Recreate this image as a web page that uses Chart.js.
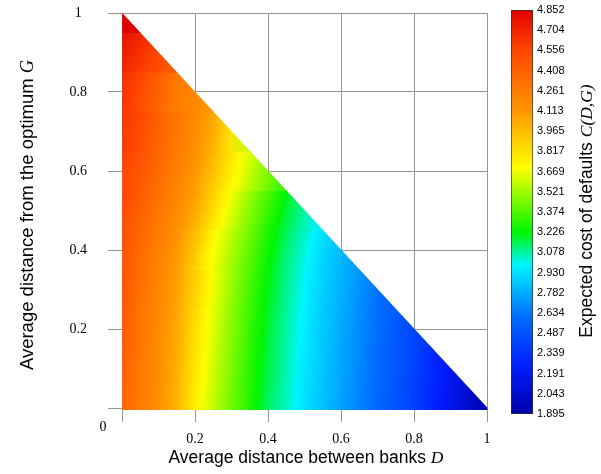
<!DOCTYPE html>
<html>
<head>
<meta charset="utf-8">
<title>Expected cost of defaults C(D,G)</title>
<script src="https://cdn.jsdelivr.net/npm/chart.js@4.4.1/dist/chart.umd.min.js"></script>
<style>
  body { margin: 0; background: #fff; }
  #wrap { position: relative; width: 601px; height: 474px; }
  #wrap canvas { position: absolute; top: 0; }
  #main { left: 0; }
  #bar { left: 500px; }
</style>
</head>
<body>
<div id="wrap">
  <canvas id="main" width="601" height="474"></canvas>
  <canvas id="bar" width="101" height="474"></canvas>
</div>
<script>
// surface: one row per G, values of C at D = 0, 0.05, 0.10 ... up to 1 - G
const gRows = [0, 0.1, 0.2, 0.3, 0.4, 0.5, 0.6, 0.7, 0.8, 0.9, 1];
const dStep = 0.05;
const costRows = [
    [4.379, 4.261, 4.142, 3.994, 3.758, 3.580, 3.433, 3.285, 3.137, 3.048, 2.930, 2.841, 2.753, 2.664, 2.575, 2.486, 2.398, 2.279, 2.161, 2.043, 1.895],
    [4.423, 4.278, 4.160, 4.018, 3.796, 3.610, 3.456, 3.308, 3.161, 3.063, 2.948, 2.856, 2.767, 2.679, 2.590, 2.501, 2.412, 2.297, 2.179],
    [4.453, 4.296, 4.178, 4.039, 3.829, 3.634, 3.477, 3.329, 3.181, 3.075, 2.965, 2.868, 2.779, 2.690, 2.602, 2.513, 2.424],
    [4.482, 4.320, 4.201, 4.068, 3.876, 3.669, 3.507, 3.359, 3.211, 3.093, 2.989, 2.886, 2.797, 2.708, 2.619],
    [4.497, 4.355, 4.237, 4.113, 3.921, 3.699, 3.551, 3.403, 3.255, 3.119, 3.025, 2.912, 2.823],
    [4.527, 4.414, 4.296, 4.178, 4.039, 3.829, 3.634, 3.477, 3.329, 3.181, 3.075],
    [4.556, 4.473, 4.355, 4.237, 4.113, 3.947, 3.758, 3.595, 3.462],
    [4.615, 4.527, 4.394, 4.284, 4.166, 4.024, 3.805],
    [4.645, 4.542, 4.408, 4.261, 4.190],
    [4.734, 4.645, 4.556],
    [4.852]
];
const axisTicks = [0, 0.2, 0.4, 0.6, 0.8, 1];
const colorTicks = [4.852, 4.704, 4.556, 4.408, 4.261, 4.113, 3.965, 3.817, 3.669, 3.521, 3.374,
                    3.226, 3.078, 2.930, 2.782, 2.634, 2.487, 2.339, 2.191, 2.043, 1.895];

const cMax = colorTicks[0];
const cMin = colorTicks[colorTicks.length - 1];

// colour map (position 0..1 -> rgb), jet-like as in the colour bar
const CMAP = [
    [0.00, [0, 0, 170]],
    [0.12, [0, 30, 255]],
    [0.24, [0, 110, 255]],
    [0.37, [0, 245, 255]],
    [0.45, [0, 245, 0]],
    [0.61, [255, 255, 0]],
    [0.75, [255, 150, 0]],
    [0.90, [255, 70, 0]],
    [1.00, [225, 0, 0]]
];

function mapColor(t) {
    t = Math.max(0, Math.min(1, t));
    for (let i = 1; i < CMAP.length; i++) {
        const [t0, c0] = CMAP[i - 1];
        const [t1, c1] = CMAP[i];
        if (t <= t1) {
            const f = (t - t0) / (t1 - t0);
            const c = c0.map((a, k) => Math.round(a + (c1[k] - a) * f));
            return 'rgb(' + c.join(',') + ')';
        }
    }
    return 'rgb(225,0,0)';
}

function costColor(v) {
    return mapColor((v - cMin) / (cMax - cMin));
}

// slope dD/dG of the iso-cost lines around row k (least squares over the row)
function rowTilt(k) {
    const row = costRows[k];
    const last = costRows.length - 1;
    const up = k < last ? costRows[k + 1] : [];
    const dn = k > 0 ? costRows[k - 1] : [];
    let num = 0, den = 0;
    for (let i = 1; i < row.length - 1; i++) {
        let dG;
        if (up[i] !== undefined && dn[i] !== undefined) dG = (up[i] - dn[i]) / (gRows[k + 1] - gRows[k - 1]);
        else if (dn[i] !== undefined) dG = (row[i] - dn[i]) / (gRows[k] - gRows[k - 1]);
        else if (up[i] !== undefined) dG = (up[i] - row[i]) / (gRows[k + 1] - gRows[k]);
        else continue;
        const dD = (row[i + 1] - row[i - 1]) / (2 * dStep);
        num += -dG * dD;
        den += dD * dD;
    }
    return den > 0 ? num / den : 0;
}

// gradient for one G row, stops at the D grid, tilted along the iso-lines.
// The gradient runs over D' in [-0.1, 1.1] so the ends of a row keep their slope.
const PAD = 0.1;
function rowFill(ctx) {
    if (ctx.type !== 'data') return 'transparent';
    const chart = ctx.chart;
    const k = ctx.dataIndex;
    const row = costRows[k];
    const xs = chart.scales.x, ys = chart.scales.y;
    if (!chart.chartArea || !xs || !ys) return costColor(row[0]);
    const x0 = xs.getPixelForValue(0);
    const yk = ys.getPixelForValue(gRows[k]);
    const sx = xs.getPixelForValue(1) - x0;
    const sy = ys.getPixelForValue(0) - ys.getPixelForValue(1);
    const a = rowTilt(k);
    const wx = 1 / sx, wy = a / sy;
    const w2 = wx * wx + wy * wy;
    const vx = wx / w2, vy = wy / w2;
    const g = chart.ctx.createLinearGradient(x0 - PAD * vx, yk - PAD * vy,
                                             x0 + (1 + PAD) * vx, yk + (1 + PAD) * vy);
    const at = d => (d + PAD) / (1 + 2 * PAD);
    const n = row.length;
    if (n === 1) {
        g.addColorStop(0, costColor(row[0]));
        return g;
    }
    g.addColorStop(at(-dStep), costColor(2 * row[0] - row[1]));
    for (let i = 0; i < n - 1; i++) {
        for (let s = 0; s < 4; s++) {
            const f = s / 4;
            g.addColorStop(at((i + f) * dStep), costColor(row[i] + (row[i + 1] - row[i]) * f));
        }
    }
    g.addColorStop(at((n - 1) * dStep), costColor(row[n - 1]));
    g.addColorStop(at(n * dStep), costColor(2 * row[n - 1] - row[n - 2]));
    return g;
}

function drawParts(ctx, parts, x, y, angle) {
    ctx.save();
    ctx.translate(x, y);
    ctx.rotate(angle);
    ctx.fillStyle = '#000';
    ctx.textBaseline = 'alphabetic';
    ctx.textAlign = 'left';
    let total = 0;
    parts.forEach(p => { ctx.font = p.font; total += ctx.measureText(p.text).width; });
    let cx = -total / 2;
    parts.forEach(p => {
        ctx.font = p.font;
        ctx.fillText(p.text, cx, 0);
        cx += ctx.measureText(p.text).width;
    });
    ctx.restore();
}

const sans = size => size + 'px "Liberation Sans", Arial, sans-serif';
const ital = size => 'italic ' + size + 'px "Liberation Serif", "Times New Roman", serif';
const SERIF = '"Liberation Serif", "Times New Roman", serif';

// only the triangle D + G <= 1 is drawn
const triangleClip = {
    id: 'triangleClip',
    beforeDatasetsDraw(chart) {
        const { x, y } = chart.scales;
        const l = x.getPixelForValue(0) - 2.5, r = x.getPixelForValue(1) + 2.5;
        const b = y.getPixelForValue(0) + 2, t = y.getPixelForValue(1) - 3;
        const ctx = chart.ctx;
        ctx.save();
        ctx.beginPath();
        ctx.moveTo(l, b);
        ctx.lineTo(r, b);
        ctx.lineTo(l, t);
        ctx.closePath();
        ctx.clip();
    },
    afterDatasetsDraw(chart) {
        chart.ctx.restore();
    }
};

const mainLabels = {
    id: 'mainLabels',
    afterDraw(chart) {
        const ctx = chart.ctx;
        const { x, y } = chart.scales;
        drawParts(ctx, [{ text: 'Average distance between banks ', font: sans(17.5) }, { text: 'D', font: ital(17.5) }], 306, 463, 0);
        drawParts(ctx, [{ text: 'Average distance from the optimum ', font: sans(18.5) }, { text: 'G', font: ital(18.5) }], 33, 215, -Math.PI / 2);
        ctx.save();
        ctx.font = '14px ' + SERIF;
        ctx.fillStyle = '#000';
        ctx.textAlign = 'center';
        ctx.textBaseline = 'middle';
        ctx.fillText('0', x.getPixelForValue(0) - 19, y.getPixelForValue(0) + 19);
        ctx.restore();
    }
};

const gridOpts = {
    offset: false,
    color: '#959595',
    tickColor: '#959595',
    lineWidth: 1,
    tickLength: 14
};

new Chart(document.getElementById('main'), {
    type: 'bar',
    data: {
        datasets: [{
            data: gRows.map(g => ({ y: g, x: [0, 1] })),
            backgroundColor: rowFill,
            borderWidth: 0,
            barPercentage: 1,
            categoryPercentage: 1,
            clip: false
        }]
    },
    options: {
        indexAxis: 'y',
        responsive: false,
        animation: false,
        layout: { autoPadding: false, padding: { left: 0, top: 13, right: 114, bottom: 0 } },
        plugins: { legend: { display: false }, tooltip: { enabled: false } },
        scales: {
            x: {
                type: 'linear',
                min: 0,
                max: 1,
                offset: false,
                grid: gridOpts,
                border: { display: false },
                afterBuildTicks: s => { s.ticks = axisTicks.map(v => ({ value: v })); },
                afterFit: s => { s.height = 66; s.paddingLeft = 0; s.paddingRight = 0; },
                ticks: {
                    padding: 9,
                    maxRotation: 0,
                    color: '#000',
                    font: { family: SERIF, size: 14 },
                    callback: v => (v === 0 ? '' : String(v))
                }
            },
            y: {
                type: 'linear',
                min: 0,
                max: 1,
                offset: false,
                grid: gridOpts,
                border: { display: false },
                afterBuildTicks: s => { s.ticks = axisTicks.map(v => ({ value: v })); },
                afterFit: s => { s.width = 122; s.paddingTop = 0; s.paddingBottom = 0; },
                ticks: {
                    padding: 21,
                    crossAlign: 'center',
                    color: '#000',
                    font: { family: SERIF, size: 14 },
                    callback: v => (v === 0 ? '' : String(v))
                }
            }
        }
    },
    plugins: [triangleClip, mainLabels]
});

// colour bar
const barTitle = {
    id: 'barTitle',
    afterDraw(chart) {
        drawParts(chart.ctx, [{ text: 'Expected cost of defaults ', font: sans(17.5) }, { text: 'C(D,G)', font: ital(17.5) }], 92, 211, -Math.PI / 2);
    }
};

function barFill(ctx) {
    const chart = ctx.chart;
    const ys = chart.scales.y;
    if (!chart.chartArea || !ys) return costColor(cMin);
    const g = chart.ctx.createLinearGradient(0, ys.getPixelForValue(cMin), 0, ys.getPixelForValue(cMax));
    CMAP.forEach(([t]) => g.addColorStop(t, mapColor(t)));
    return g;
}

new Chart(document.getElementById('bar'), {
    type: 'bar',
    data: {
        labels: [''],
        datasets: [{
            data: [[cMin, cMax]],
            backgroundColor: barFill,
            borderColor: '#303030',
            borderWidth: 1,
            borderSkipped: false,
            barPercentage: 1,
            categoryPercentage: 1
        }]
    },
    options: {
        responsive: false,
        animation: false,
        layout: { autoPadding: false, padding: { left: 11, top: 10, right: 0, bottom: 60 } },
        plugins: { legend: { display: false }, tooltip: { enabled: false } },
        scales: {
            x: { display: false },
            y: {
                position: 'right',
                min: cMin,
                max: cMax,
                grid: { display: false, drawTicks: false },
                border: { display: false },
                afterBuildTicks: s => { s.ticks = colorTicks.map(v => ({ value: v })); },
                afterFit: s => { s.width = 68; s.paddingTop = 0; s.paddingBottom = 0; },
                ticks: {
                    padding: 4,
                    color: '#000',
                    font: { family: '"Liberation Sans", Arial, sans-serif', size: 11 },
                    callback: v => v.toFixed(3)
                }
            }
        }
    },
    plugins: [barTitle]
});
</script>
</body>
</html>
